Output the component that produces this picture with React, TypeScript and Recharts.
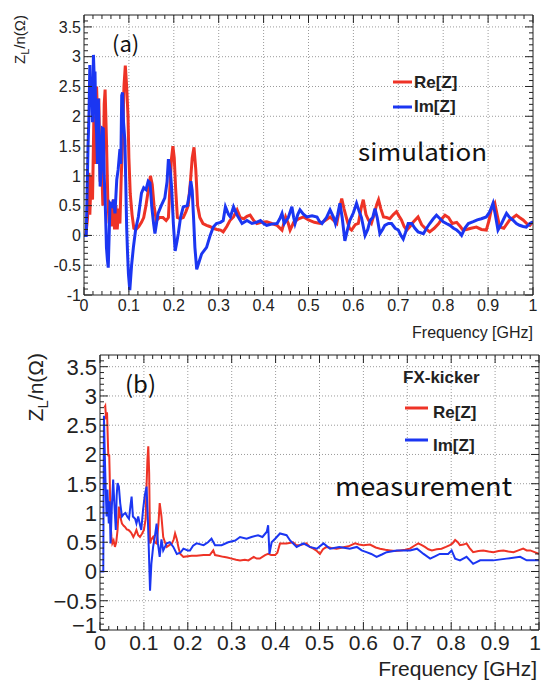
import { LineChart, Line, XAxis, YAxis, ReferenceLine } from "recharts";

// (a) simulation
const freqReA = [0.004, 0.008, 0.011, 0.013, 0.016, 0.019, 0.022, 0.025, 0.028, 0.031, 0.033, 0.036, 0.039, 0.042, 0.045, 0.047, 0.05, 0.053, 0.056, 0.059, 0.062, 0.065, 0.068, 0.071, 0.074, 0.077, 0.08, 0.083, 0.086, 0.089, 0.092, 0.095, 0.098, 0.1, 0.103, 0.107, 0.111, 0.116, 0.122, 0.128, 0.133, 0.138, 0.143, 0.148, 0.152, 0.156, 0.161, 0.168, 0.176, 0.183, 0.188, 0.192, 0.195, 0.198, 0.201, 0.204, 0.208, 0.214, 0.221, 0.227, 0.232, 0.237, 0.241, 0.245, 0.249, 0.253, 0.258, 0.265, 0.273, 0.28, 0.288, 0.296, 0.304, 0.31, 0.318, 0.325, 0.333, 0.341, 0.348, 0.356, 0.363, 0.37, 0.378, 0.385, 0.395, 0.407, 0.418, 0.43, 0.441, 0.449, 0.455, 0.459, 0.467, 0.478, 0.489, 0.5, 0.513, 0.526, 0.537, 0.548, 0.556, 0.563, 0.569, 0.574, 0.579, 0.585, 0.591, 0.596, 0.604, 0.611, 0.617, 0.622, 0.628, 0.634, 0.64, 0.646, 0.652, 0.656, 0.661, 0.667, 0.674, 0.681, 0.689, 0.696, 0.702, 0.707, 0.713, 0.719, 0.726, 0.733, 0.744, 0.752, 0.76, 0.77, 0.78, 0.79, 0.797, 0.804, 0.812, 0.82, 0.83, 0.838, 0.844, 0.852, 0.862, 0.874, 0.885, 0.896, 0.902, 0.907, 0.915, 0.92, 0.926, 0.935, 0.948, 0.956, 0.963, 0.97, 0.978, 0.986, 0.993, 1.0];
const reA = [0, 0.3, 1.05, 0.35, 1.0, 0.6, 2.0, 1.2, 2.5, 1.8, 2.3, 0.9, 1.3, 0.5, 2.2, 2.45, 1.6, 0.6, 0.2, 0.55, 0.15, 0.6, 0.1, 0.5, 0.1, 0.45, 0.2, 1.0, 1.6, 2.5, 2.85, 2.5, 2.0, 1.3, 0.7, 0.35, 0.12, 0.1, 0.15, 0.22, 0.3, 0.5, 0.75, 1.0, 0.85, 0.5, 0.25, 0.3, 0.3, 0.25, 0.3, 0.9, 1.3, 1.5, 1.3, 0.8, 0.3, 0.28, 0.3, 0.4, 0.5, 0.9, 1.3, 1.48, 1.1, 0.5, 0.3, 0.2, 0.17, 0.15, 0.12, 0.1, 0.09, 0.06, 0.15, 0.25, 0.31, 0.43, 0.3, 0.28, 0.32, 0.34, 0.25, 0.2, 0.22, 0.23, 0.2, 0.17, 0.09, 0.31, 0.2, 0.09, 0.22, 0.28, 0.31, 0.26, 0.22, 0.2, 0.25, 0.31, 0.25, 0.2, 0.45, 0.62, 0.45, 0.28, 0.12, 0.09, 0.18, 0.2, 0.45, 0.6, 0.35, 0.25, 0.2, 0.35, 0.52, 0.6, 0.45, 0.31, 0.3, 0.28, 0.35, 0.4, 0.32, 0.26, 0.15, 0.09, 0.15, 0.22, 0.31, 0.18, 0.12, 0.06, 0.12, 0.2, 0.28, 0.34, 0.3, 0.2, 0.22, 0.15, 0.09, 0.1, 0.12, 0.14, 0.1, 0.09, 0.25, 0.43, 0.54, 0.35, 0.14, 0.12, 0.26, 0.3, 0.34, 0.3, 0.26, 0.2, 0.17, 0.23];

const freqImA = [0, 0.005, 0.009, 0.011, 0.013, 0.015, 0.017, 0.019, 0.021, 0.023, 0.0245, 0.026, 0.028, 0.03, 0.032, 0.034, 0.036, 0.038, 0.039, 0.041, 0.043, 0.045, 0.047, 0.049, 0.05, 0.052, 0.054, 0.056, 0.058, 0.062, 0.066, 0.069, 0.073, 0.076, 0.08, 0.082, 0.084, 0.086, 0.088, 0.091, 0.093, 0.095, 0.097, 0.099, 0.102, 0.106, 0.11, 0.115, 0.121, 0.128, 0.133, 0.138, 0.143, 0.147, 0.151, 0.155, 0.158, 0.165, 0.172, 0.18, 0.185, 0.188, 0.192, 0.195, 0.199, 0.203, 0.207, 0.21, 0.215, 0.221, 0.23, 0.235, 0.238, 0.241, 0.244, 0.247, 0.251, 0.256, 0.262, 0.273, 0.281, 0.288, 0.295, 0.304, 0.31, 0.315, 0.322, 0.326, 0.333, 0.341, 0.352, 0.363, 0.374, 0.384, 0.393, 0.4, 0.407, 0.418, 0.43, 0.436, 0.441, 0.446, 0.455, 0.463, 0.467, 0.47, 0.476, 0.481, 0.488, 0.496, 0.508, 0.519, 0.524, 0.53, 0.54, 0.548, 0.556, 0.56, 0.565, 0.57, 0.575, 0.581, 0.587, 0.592, 0.6, 0.607, 0.613, 0.618, 0.626, 0.632, 0.637, 0.643, 0.648, 0.653, 0.659, 0.665, 0.67, 0.678, 0.685, 0.693, 0.7, 0.706, 0.711, 0.716, 0.722, 0.73, 0.737, 0.744, 0.756, 0.763, 0.77, 0.778, 0.785, 0.793, 0.8, 0.807, 0.815, 0.823, 0.83, 0.836, 0.841, 0.848, 0.856, 0.867, 0.876, 0.885, 0.896, 0.904, 0.911, 0.916, 0.922, 0.93, 0.935, 0.941, 0.948, 0.955, 0.963, 0.97, 0.978, 0.985, 0.993, 1.0];
const imA = [0, 0, 1.5, 2.0, 2.86, 2.2, 2.47, 1.9, 3.03, 2.6, 2.75, 2.0, 1.73, 1.2, 2.3, 1.5, 0.82, 1.1, 1.45, 1.8, 1.79, 1.0, 0.6, 0.1, -0.2, -0.4, -0.54, 0.0, 0.54, 0.5, 0.6, 0.37, 0.94, 1.1, 1.45, 1.2, 2.35, 2.4, 1.9, 1.6, 0.9, 0.14, -0.3, -0.65, -0.92, -0.5, -0.2, 0.1, 0.31, 0.71, 0.8, 0.77, 0.91, 0.88, 0.48, 0.2, 0.03, 0.37, 0.5, 0.63, 0.9, 1.28, 1.1, 0.82, 0.2, -0.26, -0.1, 0.03, 0.3, 0.48, 0.5, 0.7, 0.91, 0.75, 0.3, -0.2, -0.57, -0.45, -0.31, -0.2, 0.0, 0.14, 0.2, 0.22, 0.25, 0.48, 0.35, 0.31, 0.48, 0.34, 0.2, 0.25, 0.2, 0.22, 0.25, 0.2, 0.17, 0.19, 0.2, 0.28, 0.37, 0.2, 0.3, 0.48, 0.3, 0.2, 0.35, 0.43, 0.36, 0.31, 0.33, 0.31, 0.24, 0.2, 0.3, 0.43, 0.3, 0.2, 0.35, 0.54, 0.3, -0.09, 0.1, 0.25, 0.38, 0.54, 0.4, 0.3, 0.0, 0.1, 0.25, 0.3, 0.45, 0.3, 0.03, 0.1, 0.17, 0.2, 0.2, 0.12, 0.09, 0.0, -0.06, 0.05, 0.2, 0.2, 0.12, 0.06, 0.03, 0.12, 0.2, 0.28, 0.34, 0.28, 0.23, 0.2, 0.17, 0.12, 0.09, 0.05, 0.0, 0.12, 0.2, 0.23, 0.26, 0.28, 0.31, 0.4, 0.54, 0.35, 0.09, 0.2, 0.28, 0.37, 0.3, 0.26, 0.2, 0.17, 0.15, 0.14, 0.2, 0.23];

// (b) measurement
const freqReB = [0.01, 0.012, 0.014, 0.016, 0.018, 0.019, 0.021, 0.022, 0.024, 0.026, 0.028, 0.031, 0.034, 0.037, 0.04, 0.043, 0.046, 0.05, 0.054, 0.057, 0.061, 0.065, 0.069, 0.072, 0.076, 0.08, 0.083, 0.087, 0.091, 0.096, 0.1, 0.104, 0.106, 0.108, 0.11, 0.112, 0.114, 0.117, 0.121, 0.125, 0.129, 0.133, 0.136, 0.14, 0.144, 0.148, 0.152, 0.158, 0.164, 0.168, 0.171, 0.175, 0.179, 0.183, 0.19, 0.2, 0.209, 0.22, 0.236, 0.25, 0.258, 0.262, 0.27, 0.281, 0.29, 0.3, 0.31, 0.319, 0.33, 0.338, 0.35, 0.357, 0.364, 0.376, 0.383, 0.39, 0.399, 0.404, 0.41, 0.425, 0.44, 0.447, 0.455, 0.47, 0.478, 0.486, 0.494, 0.501, 0.508, 0.516, 0.527, 0.539, 0.552, 0.566, 0.581, 0.59, 0.6, 0.615, 0.628, 0.638, 0.65, 0.661, 0.673, 0.684, 0.695, 0.706, 0.716, 0.725, 0.733, 0.74, 0.748, 0.756, 0.767, 0.778, 0.788, 0.797, 0.803, 0.809, 0.815, 0.82, 0.828, 0.835, 0.842, 0.85, 0.862, 0.873, 0.885, 0.896, 0.908, 0.919, 0.93, 0.942, 0.953, 0.964, 0.972, 0.98, 0.99, 1.0];
const reB = [2.8, 2.83, 2.6, 2.72, 2.2, 1.97, 2.0, 1.68, 0.82, 0.6, 0.48, 0.53, 0.42, 0.5, 0.71, 1.11, 0.94, 0.82, 0.78, 0.76, 0.72, 0.71, 0.68, 0.65, 0.59, 0.65, 0.71, 0.62, 0.59, 0.65, 0.71, 0.9, 1.45, 1.9, 2.14, 1.68, 0.48, 0.55, 0.59, 0.5, 0.48, 0.8, 1.17, 0.94, 0.59, 0.5, 0.42, 0.45, 0.48, 0.55, 0.65, 0.55, 0.4, 0.3, 0.25, 0.26, 0.27, 0.27, 0.28, 0.28, 0.36, 0.28, 0.27, 0.25, 0.24, 0.22, 0.2, 0.19, 0.2, 0.19, 0.25, 0.22, 0.22, 0.28, 0.3, 0.28, 0.28, 0.32, 0.48, 0.48, 0.5, 0.45, 0.45, 0.48, 0.42, 0.39, 0.35, 0.3, 0.38, 0.42, 0.4, 0.39, 0.41, 0.43, 0.48, 0.46, 0.45, 0.46, 0.41, 0.39, 0.37, 0.36, 0.35, 0.36, 0.37, 0.39, 0.44, 0.48, 0.45, 0.42, 0.38, 0.36, 0.38, 0.39, 0.42, 0.45, 0.48, 0.54, 0.5, 0.45, 0.46, 0.48, 0.4, 0.33, 0.35, 0.36, 0.34, 0.33, 0.35, 0.36, 0.34, 0.33, 0.36, 0.39, 0.36, 0.36, 0.33, 0.3];

const freqImB = [0, 0.0075, 0.008, 0.009, 0.011, 0.013, 0.015, 0.017, 0.02, 0.022, 0.024, 0.027, 0.03, 0.033, 0.036, 0.038, 0.04, 0.043, 0.046, 0.05, 0.054, 0.058, 0.062, 0.066, 0.069, 0.072, 0.075, 0.08, 0.083, 0.087, 0.091, 0.094, 0.098, 0.102, 0.106, 0.109, 0.111, 0.114, 0.117, 0.121, 0.125, 0.129, 0.132, 0.136, 0.14, 0.144, 0.152, 0.159, 0.167, 0.175, 0.183, 0.19, 0.2, 0.205, 0.212, 0.22, 0.236, 0.246, 0.254, 0.262, 0.277, 0.292, 0.308, 0.319, 0.334, 0.345, 0.36, 0.37, 0.38, 0.383, 0.386, 0.391, 0.399, 0.41, 0.425, 0.433, 0.448, 0.463, 0.478, 0.494, 0.509, 0.524, 0.545, 0.569, 0.585, 0.596, 0.607, 0.618, 0.63, 0.642, 0.653, 0.676, 0.706, 0.722, 0.737, 0.752, 0.763, 0.774, 0.793, 0.801, 0.809, 0.82, 0.835, 0.85, 0.866, 0.896, 0.926, 0.957, 0.972, 1.0];
const imB = [0, 0, 1.0, 2.66, 1.97, 1.4, 0.94, 1.4, 0.82, 1.2, 0.48, 1.11, 1.57, 1.11, 0.71, 1.3, 1.51, 1.45, 1.17, 0.94, 0.98, 1.0, 0.94, 0.9, 1.1, 1.28, 0.94, 0.9, 0.82, 0.94, 0.8, 0.71, 1.05, 1.3, 1.45, 0.9, 0.42, -0.33, 0.13, 0.42, 0.6, 0.82, 0.48, 0.25, 0.55, 0.36, 0.48, 0.5, 0.42, 0.3, 0.32, 0.39, 0.36, 0.36, 0.44, 0.48, 0.45, 0.5, 0.56, 0.45, 0.45, 0.5, 0.53, 0.59, 0.56, 0.59, 0.62, 0.59, 0.68, 0.79, 0.3, 0.5, 0.56, 0.65, 0.62, 0.53, 0.42, 0.48, 0.42, 0.39, 0.48, 0.39, 0.42, 0.39, 0.42, 0.36, 0.33, 0.3, 0.25, 0.29, 0.33, 0.36, 0.36, 0.39, 0.3, 0.22, 0.26, 0.3, 0.3, 0.36, 0.22, 0.19, 0.25, 0.13, 0.19, 0.19, 0.22, 0.25, 0.19, 0.19];

const X_MAJOR = [0, 0.1, 0.2, 0.3, 0.4, 0.5, 0.6, 0.7, 0.8, 0.9, 1];
const Y_MAJOR = [-1, -0.5, 0, 0.5, 1, 1.5, 2, 2.5, 3, 3.5];

const RED = "#ee3326";
const BLUE = "#1b36f2";
const INK = "#222";
const FONT = "'Liberation Sans', Arial, Helvetica, sans-serif";
const JP = "'Noto Sans CJK JP', 'Noto Sans', sans-serif";

// minor ticks every 0.02 (x) and 0.1 (y), majors picked out when drawn
const xTicks: number[] = [];
for (let i = 0; i <= 50; i++) xTicks.push(Math.round(i * 2) / 100);
const yTicks: number[] = [];
for (let i = -10; i <= 36; i++) yTicks.push(i / 10);

const isMajor = (v: number, step: number) => Math.abs(v / step - Math.round(v / step)) < 1e-6;

const pts = (xs: number[], ys: number[]) => xs.map((x, i) => ({ x, y: ys[i] }));

interface Panel {
  w: number;
  h: number;
  top: number;
  bottom: number;
  left: number;
  right: number;
  xFont: number;
  yFont: number;
  xLabelY: number;
  lastShift: number;
  firstDy: string;
  minus: string;
  lineW: number;
}

const panelA: Panel = { w: 541, h: 340, top: 15, bottom: 295, left: 84, right: 533, xFont: 16, yFont: 16, xLabelY: 311, lastShift: 0, firstDy: "0.36em", minus: "-", lineW: 3 };
const panelB: Panel = { w: 541, h: 341, top: 15, bottom: 290, left: 100, right: 539, xFont: 21, yFont: 22, xLabelY: 310, lastShift: -4, firstDy: "0.12em", minus: "\u2212", lineW: 2 };

const fmt = (v: number, minus: string) => (v < 0 ? minus + String(-v) : String(v));

function ImpedancePanel({ p, re, im }: { p: Panel; re: { x: number; y: number }[]; im: { x: number; y: number }[] }) {
  const bottomTick = (props: any) => {
    const { x, payload } = props;
    const major = isMajor(payload.value, 0.1);
    const shift = payload.value === 1 ? p.lastShift : 0;
    return (
      <g>
        <line x1={x} x2={x} y1={p.bottom} y2={p.bottom - (major ? 8 : 4)} stroke={INK} />
        {major && (
          <text x={x + shift} y={p.xLabelY} textAnchor="middle" fontSize={p.xFont} fill={INK} fontFamily={FONT}>
            {fmt(payload.value, p.minus)}
          </text>
        )}
      </g>
    );
  };
  const topTick = (props: any) => {
    const { x, payload } = props;
    const major = isMajor(payload.value, 0.1);
    return <line x1={x} x2={x} y1={p.top} y2={p.top + (major ? 8 : 4)} stroke={INK} />;
  };
  const leftTick = (props: any) => {
    const { y, payload } = props;
    const major = isMajor(payload.value, 0.5);
    return (
      <g>
        <line x1={p.left} x2={p.left + (major ? 8 : 4)} y1={y} y2={y} stroke={INK} />
        {major && (
          <text x={p.left - 3} y={y} dy={payload.value === -1 ? p.firstDy : "0.36em"} textAnchor="end" fontSize={p.yFont} fill={INK} fontFamily={FONT}>
            {fmt(payload.value, p.minus)}
          </text>
        )}
      </g>
    );
  };
  const rightTick = (props: any) => {
    const { y, payload } = props;
    const major = isMajor(payload.value, 0.5);
    return <line x1={p.right} x2={p.right - (major ? 8 : 4)} y1={y} y2={y} stroke={INK} />;
  };

  // axes need a size of at least 1px to be drawn, so the margins give that pixel back
  return (
    <LineChart
      width={p.w}
      height={p.h}
      margin={{ top: p.top - 1, right: p.w - p.right - 1, bottom: p.h - p.bottom - 1, left: p.left - 1 }}
    >
      <XAxis xAxisId="b" type="number" dataKey="x" domain={[0, 1]} ticks={xTicks} interval={0} height={1} tick={bottomTick} tickLine={false} axisLine={{ stroke: INK }} allowDataOverflow />
      <XAxis xAxisId="t" orientation="top" type="number" dataKey="x" domain={[0, 1]} ticks={xTicks} interval={0} height={1} tick={topTick} tickLine={false} axisLine={{ stroke: INK }} allowDataOverflow />
      <YAxis yAxisId="l" type="number" domain={[-1, 3.7]} ticks={yTicks} interval={0} width={1} tick={leftTick} tickLine={false} axisLine={{ stroke: INK }} allowDataOverflow />
      <YAxis yAxisId="r" orientation="right" type="number" domain={[-1, 3.7]} ticks={yTicks} interval={0} width={1} tick={rightTick} tickLine={false} axisLine={{ stroke: INK }} allowDataOverflow />
      {X_MAJOR.slice(1, -1).map((v) => (
        <ReferenceLine key={"gx" + v} xAxisId="b" yAxisId="l" x={v} stroke="#9a9a9a" strokeDasharray="1 2" />
      ))}
      {Y_MAJOR.slice(1).map((v) => (
        <ReferenceLine key={"gy" + v} xAxisId="b" yAxisId="l" y={v} stroke="#9a9a9a" strokeDasharray="1 2" />
      ))}
      <Line xAxisId="b" yAxisId="l" data={re} dataKey="y" name="Re[Z]" stroke={RED} strokeWidth={p.lineW} dot={false} type="linear" isAnimationActive={false} />
      <Line xAxisId="b" yAxisId="l" data={im} dataKey="y" name="Im[Z]" stroke={BLUE} strokeWidth={p.lineW} dot={false} type="linear" isAnimationActive={false} />
    </LineChart>
  );
}

export default function App() {
  return (
    <div style={{ position: "absolute", left: 0, top: 0, width: 541, height: 681, background: "#fff" }}>
      <div style={{ position: "absolute", left: 0, top: 0 }}>
        <ImpedancePanel p={panelA} re={pts(freqReA, reA)} im={pts(freqImA, imA)} />
      </div>
      <div style={{ position: "absolute", left: 0, top: 340 }}>
        <ImpedancePanel p={panelB} re={pts(freqReB, reB)} im={pts(freqImB, imB)} />
      </div>
      <svg width={541} height={681} style={{ position: "absolute", left: 0, top: 0, pointerEvents: "none" }}>
        {/* panel (a) texts */}
        <text transform="translate(25,15) rotate(-90)" textAnchor="end" fontSize={15} fill={INK} fontFamily={FONT}>
          Z<tspan fontSize={11} dy={4}>L</tspan>
          <tspan dy={-4}>/n(Ω)</tspan>
        </text>
        <text x={533} y={338} textAnchor="end" fontSize={16} fill={INK} fontFamily={FONT}>Frequency [GHz]</text>
        <text x={112} y={52} fontSize={22} fill="#111" fontFamily={JP}>(a)</text>
        <text x={358} y={161} fontSize={24} fill="#111" fontFamily={JP} textLength={129} lengthAdjust="spacingAndGlyphs">simulation</text>
        <line x1={393} x2={412} y1={82} y2={82} stroke={RED} strokeWidth={3} />
        <text x={414} y={88} fontSize={17} fontWeight="bold" fill={INK} fontFamily={FONT}>Re[Z]</text>
        <line x1={393} x2={412} y1={107} y2={107} stroke={BLUE} strokeWidth={3} />
        <text x={414} y={112} fontSize={17} fontWeight="bold" fill={INK} fontFamily={FONT}>Im[Z]</text>

        {/* panel (b) texts */}
        <text transform="translate(43,353) rotate(-90)" textAnchor="end" fontSize={21} fill={INK} fontFamily={FONT}>
          Z<tspan fontSize={15} dy={5}>L</tspan>
          <tspan dy={-5}>/n(Ω)</tspan>
        </text>
        <text x={537} y={676} textAnchor="end" fontSize={21} fill={INK} fontFamily={FONT}>Frequency [GHz]</text>
        <text x={125} y={393} fontSize={24} fill="#111" fontFamily={JP}>(b)</text>
        <text x={335} y={496} fontSize={26} fill="#111" fontFamily={JP} textLength={177} lengthAdjust="spacingAndGlyphs">measurement</text>
        <text x={403} y={383} fontSize={17} fontWeight="bold" fill={INK} fontFamily={FONT}>FX-kicker</text>
        <line x1={405} x2={428} y1={408} y2={408} stroke={RED} strokeWidth={3} />
        <text x={433} y={418} fontSize={17} fontWeight="bold" fill={INK} fontFamily={FONT}>Re[Z]</text>
        <line x1={405} x2={428} y1={440} y2={440} stroke={BLUE} strokeWidth={3} />
        <text x={433} y={451} fontSize={17} fontWeight="bold" fill={INK} fontFamily={FONT}>Im[Z]</text>
      </svg>
    </div>
  );
}
